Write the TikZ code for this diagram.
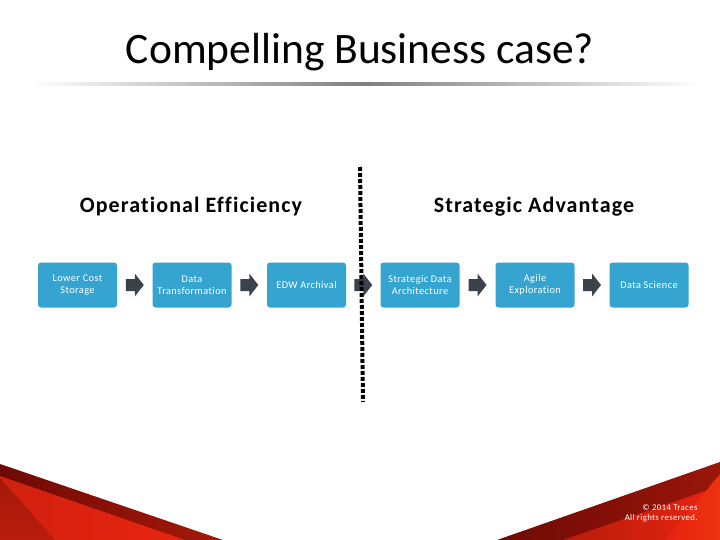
\documentclass[tikz,border=0pt]{standalone}
\usepackage{fontspec}
\setmainfont{Carlito}
\newfontfamily\spacedfont[LetterSpace=4,RawFeature={-liga;-clig}]{Carlito}
\newfontfamily\headfont[LetterSpace=5,RawFeature={-liga;-clig}]{Carlito}
\usetikzlibrary{calc}
\definecolor{boxblue}{RGB}{54,164,208}
\definecolor{arrowgray}{RGB}{59,66,75}
\definecolor{darkred}{RGB}{110,10,5}
\definecolor{midred}{RGB}{165,25,10}
\definecolor{brightred}{RGB}{232,36,16}
\definecolor{deepred}{RGB}{185,28,12}
\tikzset{
  stepbox/.style={fill=boxblue, rounded corners=3pt, minimum width=79pt, minimum height=45pt,
    text=white, align=center, inner sep=1pt, font=\spacedfont\fontsize{10.3}{12}\selectfont},
  blockarrow/.style={fill=arrowgray},
  heading/.style={font=\headfont\bfseries\fontsize{22}{24}\selectfont, anchor=base},
}
\begin{document}
\begin{tikzpicture}[x=1pt,y=-1pt]
\useasboundingbox (0,0) rectangle (720,540);
\fill[white] (0,0) rectangle (720,540);
% title
\node[font=\fontsize{43.5}{50}\selectfont, anchor=base] (title) at (360,64) {Compelling Business case?};
% rule
\shade[left color=white, right color=white, middle color=black!50] (30,83) rectangle (700,85.5);
% headings
\node[heading] (h1) at (191,212) {Operational Efficiency};
\node[heading] (h2) at (534,212) {Strategic Advantage};
% boxes
\node[stepbox] (b1) at (77.5,285) {Lower Cost\\Storage};
\node[stepbox] (b2) at (192,285) {Data\\Transformation};
\node[stepbox] (b3) at (306.5,285) {EDW Archival};
\node[stepbox] (b4) at (420,285) {Strategic Data\\Architecture};
\node[stepbox] (b5) at (535,285) {Agile\\Exploration};
\node[stepbox] (b6) at (649,285) {Data Science};
% block arrows
\foreach \a/\b in {b1/b2,b2/b3,b3/b4,b4/b5,b5/b6}{
  \fill[blockarrow] ($(\a.east)!0.5!(\b.west)$) ++(-9,-6) -- ++(9,0) -- ++(0,-5.5) -- ++(9,11.5) -- ++(-9,11.5) -- ++(0,-5.5) -- ++(-9,0) -- cycle;
}
% divider
\coordinate (dtop) at (360,167);
\coordinate (dbot) at (363,402);
\draw[line width=4pt, dash pattern=on 4pt off 2pt] (dtop) -- (dbot);
% bottom left decoration
\shade[left color=darkred, right color=midred] (0,464) -- (223,540) -- (0,540) -- cycle;
\shade[left color=brightred!90!black, right color=brightred] (0,476) -- (185,540) -- (0,540) -- cycle;
\shade[top color=midred, bottom color=deepred] (0,478) -- (55,540) -- (0,540) -- cycle;
% bottom right decoration
\shade[left color=darkred, right color=midred!80!darkred] (720,462) -- (720,540) -- (497,540) -- cycle;
\shade[left color=deepred, right color=brightred] (720,486) -- (720,540) -- (563,540) -- cycle;
\shade[left color=brightred, right color=brightred!85!orange] (720,474) -- (720,540) -- (665,540) -- cycle;
\node[text=white, align=right, anchor=east, font=\spacedfont\fontsize{8.8}{9.5}\selectfont] (copy) at (701,513) {© 2014 Traces\\All rights reserved.};
\end{tikzpicture}
\end{document}
